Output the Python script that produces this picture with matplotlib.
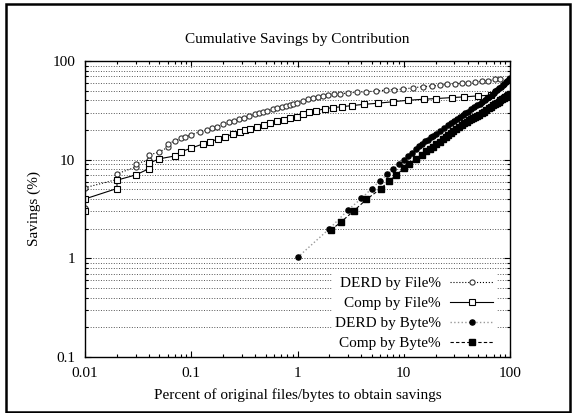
import matplotlib
matplotlib.use("Agg")
import matplotlib.pyplot as plt
from matplotlib.patches import Rectangle
from matplotlib.ticker import LogLocator, NullFormatter, FixedLocator, FixedFormatter

plt.rcParams['font.family'] = ['Liberation Serif', 'DejaVu Serif']
plt.rcParams['font.size'] = 11

# DERD by File%
derd_file_x = [0.01, 0.01, 0.02, 0.02, 0.03, 0.03, 0.04, 0.04, 0.05, 0.06, 0.06, 0.07, 0.08, 0.087,
               0.1, 0.12, 0.14, 0.156, 0.174, 0.198, 0.228, 0.252, 0.283, 0.316, 0.352, 0.398, 0.434,
               0.477, 0.52, 0.585, 0.646, 0.714, 0.78, 0.85, 0.913, 0.984, 1.12, 1.26, 1.41, 1.57,
               1.75, 1.95, 2.21, 2.51, 2.97, 3.61, 4.41, 5.48, 6.81, 8.1, 9.9, 12.3, 15.1, 18.3,
               21.9, 25.7, 30.4, 35.1, 40.5, 46.9, 54.2, 62.5, 72.3, 80.5]
derd_file_y = [3.2, 5.2, 6.3, 7.2, 8.4, 9.1, 9.9, 11.1, 12.0, 13.3, 14.4, 15.5, 16.5, 16.9,
               17.8, 19.2, 20.0, 21.1, 21.6, 22.8, 23.9, 24.7, 25.6, 26.7, 27.7, 28.8, 29.5,
               30.7, 31.4, 32.4, 33.4, 34.4, 35.3, 36.1, 36.7, 37.5, 39.3, 40.9, 41.9, 43.2,
               44.2, 45.2, 45.8, 46.6, 47.4, 48.2, 48.8, 49.6, 50.8, 51.2, 52.0, 53.6, 54.9, 55.8,
               56.7, 58.1, 58.9, 59.4, 60.3, 61.2, 62.2, 63.1, 65.2, 66.1]

# Comp by File%
comp_file_x = [0.01, 0.01, 0.02, 0.02, 0.03, 0.04, 0.04, 0.05, 0.07, 0.08, 0.1, 0.128, 0.15, 0.18,
               0.21, 0.245, 0.286, 0.32, 0.36, 0.42, 0.48, 0.55, 0.64, 0.75, 0.85, 0.98, 1.12,
               1.29, 1.5, 1.83, 2.15, 2.61, 3.24, 4.24, 5.68, 7.97, 11.0, 15.5, 20.0, 28.5, 37.0,
               50.0, 66.0]
comp_file_y = [3.0, 4.0, 5.1, 6.2, 7.0, 8.1, 9.2, 10.2, 10.9, 12.0, 13.1, 14.4, 15.2, 16.2,
               17.1, 18.1, 18.9, 20.0, 20.6, 21.6, 22.5, 23.4, 24.5, 25.2, 26.3, 27.2, 29.3,
               30.4, 31.4, 32.9, 33.7, 34.4, 35.3, 36.4, 37.3, 38.7, 40.0, 41.0, 41.6, 42.6, 43.3,
               44.3, 45.0]

# DERD by Byte%
derd_byte_x = [1, 2, 3, 4, 5, 6, 7, 8, 9, 10, 11, 12, 13, 14, 15, 16, 17, 18, 19, 20, 22, 24, 26,
               28, 30, 32, 34, 36, 38, 40, 43, 46, 49, 52, 55, 58, 61, 64, 67, 70, 73, 76, 79,
               82, 85, 88, 91, 94, 97, 100]
derd_byte_y = [1.02, 2.0, 3.1, 4.05, 5.1, 6.1, 7.1, 8.0, 9.0, 9.9, 10.9, 11.8, 12.7, 13.6, 14.5,
               15.3, 16.0, 16.8, 17.5, 18.2, 19.6, 21.0, 22.3, 23.6, 24.8, 26.0, 27.2, 28.4, 29.6,
               30.7, 32.4, 33.9, 35.5, 37.0, 38.6, 40.2, 41.9, 43.6, 45.4, 47.3, 49.2, 51.1, 53.0,
               54.9, 56.8, 58.9, 61.0, 63.1, 65.2, 67.0]

# Comp by Byte%
comp_byte_x = [2.07, 2.55, 3.39, 4.45, 6.1, 7.3, 8.5, 10.1, 11.2, 13.0, 14.9, 16.3, 17.5, 18.9,
               20.3, 21.8, 23.3, 24.8, 26.3, 27.7, 29, 31, 33, 35, 37, 39, 41, 43, 45, 47, 49, 51,
               54, 57, 60, 63, 66, 69, 72, 75, 78, 81, 84, 87, 90, 93, 96, 100]
comp_byte_y = [1.94, 2.32, 3.03, 3.95, 5.1, 6.1, 7.0, 8.2, 9.0, 10.1, 11.1, 12.2, 12.8, 13.5,
               14.3, 15.2, 16.1, 16.9, 17.7, 18.5, 19.3, 20.4, 21.4, 22.4, 23.4, 24.3, 25.0, 25.7,
               26.4, 27.0, 27.6, 28.2, 29.4, 30.7, 32.0, 33.2, 34.4, 35.7, 36.8, 37.8, 38.8, 39.8,
               40.9, 42.0, 43.0, 44.0, 45.1, 46.6]

x_ticks = [0.01, 0.1, 1, 10, 100]
x_labels = ['0.01', '0.1', '1', '10', '100']
y_ticks = [0.1, 1, 10, 100]
y_labels = ['0.1', '1', '10', '100']

fig = plt.figure(figsize=(5.74, 4.13), dpi=100)
ax = fig.add_axes([85 / 574, 56 / 413, 425 / 574, 296 / 413])

ms = 3.7
ax.plot(derd_file_x, derd_file_y, color='black', ls=':', lw=0.8, marker='o', ms=ms,
        mfc='white', mec='#333333', mew=0.8, label='DERD by File%')
ax.plot(comp_file_x, comp_file_y, color='black', ls='-', lw=0.8, marker='s', ms=ms,
        mfc='white', mec='black', mew=0.8, label='Comp by File%')
ax.plot(derd_byte_x, derd_byte_y, color='#999999', ls=':', lw=1.0, marker='o', ms=ms,
        mfc='black', mec='black', label='DERD by Byte%')
ax.plot(comp_byte_x, comp_byte_y, color='black', ls=(0, (3, 2)), lw=0.8, marker='s', ms=ms,
        mfc='black', mec='black', label='Comp by Byte%')

ax.set_xscale('log')
ax.set_yscale('log')
ax.set_xlim(0.01, 100)
ax.set_ylim(0.1, 100)

ax.xaxis.set_major_locator(FixedLocator(x_ticks))
ax.xaxis.set_major_formatter(FixedFormatter(x_labels))
ax.yaxis.set_major_locator(FixedLocator(y_ticks))
ax.yaxis.set_major_formatter(FixedFormatter(y_labels))
ax.xaxis.set_minor_locator(LogLocator(base=10, subs=range(2, 10), numticks=20))
ax.yaxis.set_minor_locator(LogLocator(base=10, subs=range(2, 10), numticks=20))
ax.xaxis.set_minor_formatter(NullFormatter())
ax.yaxis.set_minor_formatter(NullFormatter())

ax.tick_params(which='both', direction='in', top=True, right=True, width=0.8)
ax.tick_params(which='major', length=4, pad=7)
ax.tick_params(which='minor', length=2)
for s in ax.spines.values():
    s.set_linewidth(1.0)

ax.grid(True, axis='y', which='both', ls=':', lw=0.7, color='#555555')
ax.set_axisbelow(True)

ax.set_title('Cumulative Savings by Contribution', fontsize=11, pad=13)
ax.set_xlabel('Percent of original files/bytes to obtain savings', labelpad=6)
ax.set_ylabel('Savings (%)', labelpad=8)

leg = ax.legend(loc='lower right', bbox_to_anchor=(0.985, -0.012), markerfirst=False, numpoints=1,
                handlelength=2.8, handletextpad=0.6, labelspacing=0.4, borderpad=0.2,
                frameon=True, fancybox=False, framealpha=1.0, edgecolor='white',
                facecolor='white', fontsize=11)

fig.patches.append(Rectangle((6 / 574, 1 - 412 / 413), 564 / 574, 408 / 413, transform=fig.transFigure,
                             fill=False, edgecolor='black', lw=1.8))

fig.savefig('out.png', dpi=100)
